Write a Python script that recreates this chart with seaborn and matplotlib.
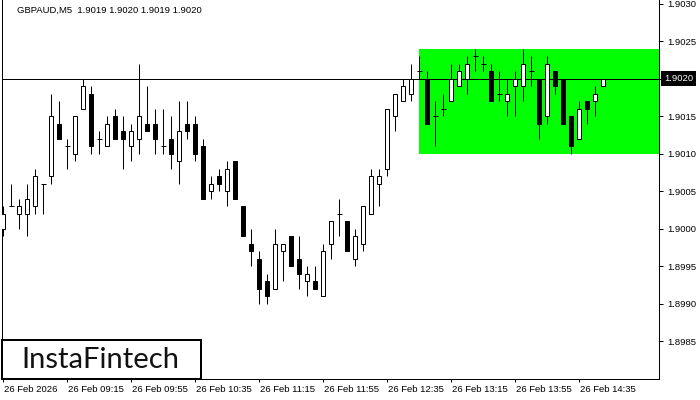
import numpy as np
import pandas as pd
import matplotlib
matplotlib.use("Agg")
import matplotlib.pyplot as plt
from matplotlib.patches import Rectangle
from matplotlib.transforms import blended_transform_factory, ScaledTranslation
import seaborn as sns

# --- data (GBPAUD M5, 26 Feb 2026 08:35 .. 14:50) ---
title_text = "GBPAUD,M5  1.9019 1.9020 1.9019 1.9020"

opens = [1.9000, 1.9003, 1.9002, 1.9002, 1.9003, 1.9006, 1.9007, 1.9014, 1.9011, 1.9010,
         1.9016, 1.9018, 1.9012, 1.9011, 1.9015, 1.9013, 1.9011, 1.9012, 1.9014, 1.9014,
         1.9011, 1.9012, 1.9009, 1.9014, 1.9014, 1.9011, 1.9005, 1.9007, 1.9005, 1.9009,
         1.9003, 1.8998, 1.8996, 1.8993, 1.8992, 1.8997, 1.8999, 1.8996, 1.8993, 1.8993,
         1.8991, 1.8998, 1.9002, 1.9001, 1.8996, 1.8998, 1.9002, 1.9006, 1.9008, 1.9015,
         1.9017, 1.9018, 1.9021, 1.9020, 1.9015, 1.9016, 1.9017, 1.9019, 1.9020, 1.9023,
         1.9022, 1.9021, 1.9018, 1.9017, 1.9019, 1.9019, 1.9021, 1.9020, 1.9015, 1.9021,
         1.9020, 1.9015, 1.9012, 1.9017, 1.9017, 1.9019]
highs = [1.9003, 1.9006, 1.9004, 1.9006, 1.9008, 1.9006, 1.9018, 1.9017, 1.9012, 1.9015,
         1.9020, 1.9019, 1.9013, 1.9015, 1.9016, 1.9015, 1.9014, 1.9022, 1.9019, 1.9016,
         1.9016, 1.9015, 1.9017, 1.9017, 1.9015, 1.9012, 1.9007, 1.9008, 1.9009, 1.9009,
         1.9003, 1.9000, 1.8997, 1.8994, 1.9000, 1.8998, 1.8999, 1.8999, 1.8995, 1.8995,
         1.8998, 1.9001, 1.9004, 1.9001, 1.9000, 1.9003, 1.9008, 1.9008, 1.9016, 1.9018,
         1.9020, 1.9022, 1.9023, 1.9021, 1.9017, 1.9018, 1.9022, 1.9022, 1.9023, 1.9024,
         1.9023, 1.9022, 1.9021, 1.9020, 1.9021, 1.9024, 1.9023, 1.9020, 1.9023, 1.9021,
         1.9020, 1.9015, 1.9017, 1.9017, 1.9019, 1.9020]
lows = [1.8999, 1.9003, 1.9000, 1.8999, 1.9002, 1.9002, 1.9006, 1.9012, 1.9008, 1.9009,
        1.9016, 1.9010, 1.9010, 1.9011, 1.9012, 1.9008, 1.9009, 1.9010, 1.9013, 1.9010,
        1.9010, 1.9008, 1.9006, 1.9012, 1.9009, 1.9004, 1.9004, 1.9005, 1.9003, 1.9004,
        1.8999, 1.8995, 1.8990, 1.8990, 1.8992, 1.8993, 1.8995, 1.8992, 1.8991, 1.8992,
        1.8991, 1.8996, 1.8999, 1.8997, 1.8995, 1.8997, 1.9002, 1.9003, 1.9007, 1.9013,
        1.9017, 1.9017, 1.9020, 1.9014, 1.9011, 1.9015, 1.9017, 1.9019, 1.9018, 1.9021,
        1.9021, 1.9017, 1.9017, 1.9015, 1.9015, 1.9017, 1.9019, 1.9012, 1.9014, 1.9018,
        1.9014, 1.9010, 1.9012, 1.9014, 1.9015, 1.9019]
closes = [1.9002, 1.9003, 1.9003, 1.9004, 1.9007, 1.9006, 1.9015, 1.9012, 1.9011, 1.9015,
          1.9019, 1.9011, 1.9012, 1.9014, 1.9012, 1.9012, 1.9013, 1.9015, 1.9013, 1.9012,
          1.9011, 1.9010, 1.9013, 1.9013, 1.9010, 1.9004, 1.9006, 1.9006, 1.9008, 1.9004,
          1.8999, 1.8997, 1.8992, 1.8991, 1.8998, 1.8998, 1.8995, 1.8994, 1.8994, 1.8992,
          1.8997, 1.9001, 1.9002, 1.8997, 1.8999, 1.9003, 1.9007, 1.9007, 1.9016, 1.9018,
          1.9019, 1.9020, 1.9021, 1.9014, 1.9015, 1.9016, 1.9020, 1.9021, 1.9022, 1.9023,
          1.9022, 1.9017, 1.9018, 1.9018, 1.9020, 1.9022, 1.9021, 1.9014, 1.9022, 1.9019,
          1.9014, 1.9011, 1.9016, 1.9016, 1.9018, 1.9020]

tick_labels = ["26 Feb 2026", "26 Feb 09:15", "26 Feb 09:55", "26 Feb 10:35", "26 Feb 11:15",
               "26 Feb 11:55", "26 Feb 12:35", "26 Feb 13:15", "26 Feb 13:55", "26 Feb 14:35"]
bars_per_label = 8

# rectangle pattern (flat range)
range_start_bar = 52
range_top = 1.9024
range_bottom = 1.9010

price_ticks = [1.8985, 1.8990, 1.8995, 1.9000, 1.9005, 1.9010, 1.9015, 1.9020, 1.9025, 1.9030]

df = pd.DataFrame({"open": opens, "high": highs, "low": lows, "close": closes})
df["bar"] = np.arange(len(df))
df["bull"] = df["close"] >= df["open"]
df["doji"] = np.isclose(df["close"], df["open"])

sns.set_style("white")
plt.rcParams["font.family"] = ["Liberation Sans", "DejaVu Sans"]

W, H = 700, 400
fig = plt.figure(figsize=(7, 4), dpi=100)
ax = fig.add_axes([2 / W, 21 / H, 657 / W, 379 / H])
px = 72 / 100  # one pixel in points

ax.set_xlim(-0.16, 81.96)
ax.set_ylim(1.89800, 1.90305)

# green rectangle
ax.add_patch(Rectangle((range_start_bar, range_bottom), 82 - range_start_bar,
                       range_top - range_bottom, facecolor="#00FF00", edgecolor="none", zorder=1))

# current price line
last_price = closes[-1]
ax.axhline(last_price, color="black", lw=px, zorder=2)

# wicks
ax.vlines(df["bar"], df["low"], df["high"], color="black", lw=px, zorder=3)

# bodies
body = df[~df["doji"]]
ax.bar(body["bar"], (body["close"] - body["open"]).abs(),
       bottom=body[["open", "close"]].min(axis=1), width=0.5,
       color=np.where(body["bull"], "white", "black"), edgecolor="black",
       linewidth=px, zorder=4)
doji = df[df["doji"]]
ax.hlines(doji["close"], doji["bar"] - 0.31, doji["bar"] + 0.31, color="black", lw=px, zorder=4)

# axes styling
for side in ["left", "right", "bottom"]:
    ax.spines[side].set_color("black")
    ax.spines[side].set_linewidth(px)
ax.spines["top"].set_visible(False)

ax.yaxis.tick_right()
ax.set_yticks(price_ticks)
# the current-price marker takes the place of its own scale label
ax.set_yticklabels(["" if np.isclose(p, last_price) else f"{p:.4f}" for p in price_ticks])
ax.tick_params(axis="y", right=True, length=4 * px, width=px, pad=3, labelsize=6.8,
               colors="black")

ax.set_xticks(np.arange(len(tick_labels)) * bars_per_label)
ax.set_xticklabels(tick_labels, ha="left")
ax.tick_params(axis="x", bottom=True, length=3 * px, width=px, pad=2, labelsize=6.8,
               colors="black")
offset = ScaledTranslation(1 / 100, 0, fig.dpi_scale_trans)
for lbl in ax.get_xticklabels():
    lbl.set_transform(lbl.get_transform() + offset)

# current price marker on the scale
trans = blended_transform_factory(ax.transAxes, ax.transData)
ax.text(1 + 5 / 657, last_price, f"{last_price:.4f}", transform=trans, ha="left", va="center",
        fontsize=6.8, color="white", zorder=6, clip_on=False,
        bbox=dict(boxstyle="square,pad=0.3", facecolor="black", edgecolor="none"))

# chart title
fig.text(17 / W, 1 - 10 / H, title_text, ha="left", va="center", fontsize=6.8, color="black")

# logo box
fig.patches.append(Rectangle((2 / W, 21 / H), 199 / W, 39 / H, transform=fig.transFigure,
                             facecolor="white", edgecolor="black", linewidth=2 * px, zorder=10))
fig.text(100 / W, 1 - 360 / H, "InstaFintech", ha="center", va="center", fontsize=21,
         family=["Lato", "DejaVu Sans"], color="#111111", zorder=11)

fig.savefig("out.png", dpi=100)
